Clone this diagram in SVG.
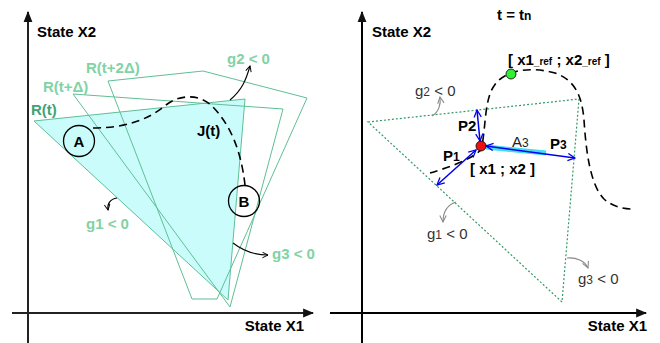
<svg xmlns="http://www.w3.org/2000/svg" width="660" height="343" viewBox="0 0 660 343">
<style>
.t{font-family:"Liberation Sans",Arial,sans-serif;font-size:15px}
.b{font-weight:bold}
.lg{fill:#7fd3a5}
.poly{fill:none;stroke:#5fbf94;stroke-width:1}
.axis{stroke:#222;stroke-width:2;fill:none}
.traj{fill:none;stroke:#000;stroke-width:1.6;stroke-dasharray:8,5}
.garr{fill:none;stroke:#000;stroke-width:1.1}
.garr2{fill:none;stroke:#888;stroke-width:1.1}
.blue{fill:none;stroke:#0000ee;stroke-width:1.5}
.circ{fill:#fff;fill-opacity:0;stroke:#000;stroke-width:1.3}
</style>
<defs>
<marker id="ah" viewBox="0 0 10 10" refX="9" refY="5" markerWidth="7" markerHeight="7" orient="auto-start-reverse" markerUnits="userSpaceOnUse">
<path d="M1,1 L9,5 L1,9" fill="none" stroke="#000" stroke-width="1.4"/>
</marker>
<marker id="ahg" viewBox="0 0 10 10" refX="9" refY="5" markerWidth="8" markerHeight="8" orient="auto-start-reverse" markerUnits="userSpaceOnUse">
<path d="M1,1 L9,5 L1,9" fill="none" stroke="#888" stroke-width="1.3"/>
</marker>
<marker id="ahb" viewBox="0 0 10 10" refX="9" refY="5" markerWidth="9" markerHeight="9" orient="auto-start-reverse" markerUnits="userSpaceOnUse">
<path d="M1,1 L9,5 L1,9" fill="none" stroke="#0000ee" stroke-width="1.4"/>
</marker>
<marker id="axh" viewBox="0 0 10 10" refX="9" refY="5" markerWidth="11" markerHeight="11" orient="auto" markerUnits="userSpaceOnUse">
<path d="M0,1 L10,5 L0,9 Z" fill="#111"/>
</marker>
</defs>

<!-- LEFT PANEL -->
<g id="left-axes">
<line class="axis" x1="28" y1="343" x2="28" y2="12" marker-end="url(#axh)"/>
<line class="axis" x1="12" y1="313" x2="313" y2="313" marker-end="url(#axh)"/>
<text class="t b" x="37" y="37">State X2</text>
<text class="t b" x="304" y="331" text-anchor="end">State X1</text>
</g>

<g id="R_t">
<polygon points="34,121 245,99 228,300" fill="#cbfcfc" stroke="#5fbf94" stroke-width="1"/>
<text class="t b" x="31" y="115" fill="#40a374">R(t)</text>
</g>
<g id="R_t_d">
<polygon class="poly" points="73,94 283,109 230,307"/>
<text class="t b lg" x="43" y="92">R(t+Δ)</text>
</g>
<g id="R_t_2d">
<polygon class="poly" points="108,81 203,71 307,98 217,299 192,299"/>
<text class="t b lg" x="86" y="73">R(t+2Δ)</text>
</g>

<g id="left-connectors">
<path class="traj" d="M93,128 C125,128 148,120 166,105 C180,94 200,94 212,106 C230,124 241,150 245,185"/>
<path class="garr" d="M230,100 C242,90 246,80 250,66" marker-end="url(#ah)"/>
<path class="garr" d="M117,198 C110,199 107,204 108,210" marker-end="url(#ah)"/>
<path class="garr" d="M233,243 C242,250 254,255 268,255" marker-end="url(#ah)"/>
</g>

<g id="A">
<circle class="circ" cx="79" cy="141" r="15.5"/>
<text class="t b" x="79" y="146.5" text-anchor="middle">A</text>
</g>
<g id="B">
<circle class="circ" cx="244" cy="201" r="15.5"/>
<text class="t b" x="244" y="206.5" text-anchor="middle">B</text>
</g>
<g id="Jt"><text class="t b" x="197" y="136">J(t)</text></g>
<g id="g2L"><text class="t b lg" x="227" y="64">g2 &lt; 0</text></g>
<g id="g1L"><text class="t b lg" x="86" y="229">g1 &lt; 0</text></g>
<g id="g3L"><text class="t b lg" x="272" y="259">g3 &lt; 0</text></g>

<!-- RIGHT PANEL -->
<g id="right-axes">
<line class="axis" x1="362" y1="343" x2="362" y2="12" marker-end="url(#axh)" style="stroke:#000"/>
<line class="axis" x1="330" y1="313" x2="646" y2="313" marker-end="url(#axh)" style="stroke:#000"/>
<text class="t b" x="372" y="37">State X2</text>
<text class="t b" x="647" y="331" text-anchor="end">State X1</text>
<text class="t b" x="497" y="20">t = t<tspan font-size="12">n</tspan></text>
</g>

<g id="region-tn">
<polygon points="368,122 579,99 562,302" fill="none" stroke="#339966" stroke-width="1.2" stroke-dasharray="2,2"/>
</g>

<g id="right-connectors">
<path class="traj" d="M430,173 C447,168 470,160 481,150 C486,130 484,100 494,86 C504,70 530,66 555,73 C575,80 582,96 584,120 C586,150 590,185 604,199 C612,206 622,209 632,209"/>
<path class="garr2" d="M432,116 C439,112 441,104 440,97" marker-end="url(#ahg)"/>
<path class="garr2" d="M456,202 C447,205 443,213 443,222" marker-end="url(#ahg)"/>
<path class="garr2" d="M567,258 C576,257 585,261 588,268" marker-end="url(#ahg)"/>
<line x1="486" y1="147" x2="546" y2="153" stroke="#44dcee" stroke-width="5"/>
<line class="blue" x1="480" y1="141" x2="477" y2="110" marker-start="url(#ahb)" marker-end="url(#ahb)"/>
<line class="blue" x1="476" y1="150" x2="437" y2="185" marker-start="url(#ahb)" marker-end="url(#ahb)"/>
<line class="blue" x1="486" y1="146" x2="575" y2="158" marker-start="url(#ahb)" marker-end="url(#ahb)"/>
</g>

<g id="x_ref">
<circle cx="511" cy="74" r="5" fill="#33ee33" stroke="#000" stroke-width="0.8"/>
<text class="t b" x="508" y="65">[ x1<tspan font-size="10">_ref</tspan> ; x2<tspan font-size="10">_ref</tspan> ]</text>
</g>
<g id="x_cur">
<circle cx="481" cy="146" r="5" fill="#ee1111" stroke="#000" stroke-width="0.8"/>
<text class="t b" x="470" y="174">[ x1 ; x2 ]</text>
</g>
<g id="P1"><text class="t b" x="443" y="161">P<tspan font-size="12">1</tspan></text></g>
<g id="P2"><text class="t b" x="458" y="131">P2</text></g>
<g id="P3"><text class="t b" x="550" y="149">P<tspan font-size="12">3</tspan></text></g>
<g id="A3"><text class="t" x="512" y="147" fill="#222">A<tspan font-size="12">3</tspan></text></g>
<g id="g2R"><text class="t" x="415" y="96" fill="#333">g<tspan font-size="12">2</tspan> &lt; 0</text></g>
<g id="g1R"><text class="t" x="427" y="239" fill="#333">g<tspan font-size="12">1</tspan> &lt; 0</text></g>
<g id="g3R"><text class="t" x="578" y="284" fill="#333">g<tspan font-size="12">3</tspan> &lt; 0</text></g>
</svg>
